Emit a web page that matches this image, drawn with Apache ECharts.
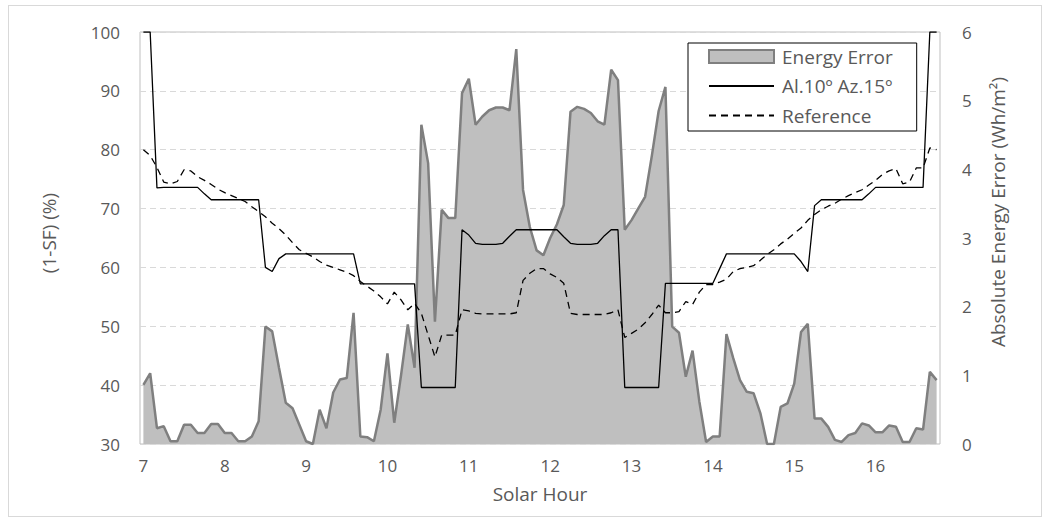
<!DOCTYPE html>
<html>
<head>
<meta charset="utf-8">
<script src="https://cdn.jsdelivr.net/npm/echarts@6/dist/echarts.min.js"></script>
<style>
    html, body { margin: 0; padding: 0; background: #fff; }
    #chart { position: absolute; left: 0; top: 0; width: 1043px; height: 530px; }
    #frame { position: absolute; left: 8px; top: 5px; width: 1032px; height: 510px; border: 1px solid #d9d9d9; pointer-events: none; }
</style>
</head>
<body>
<div id="chart"></div>
<div id="frame"></div>
<script>
// 5-minute steps from 7:00 to 16:45
const hourLabels = [7, 8, 9, 10, 11, 12, 13, 14, 15, 16]
const minuteLabels = ['00', '05', '10', '15', '20', '25', '30', '35', '40', '45', '50', '55']

// Absolute Energy Error (Wh/m2), right axis
const energyError = [
    0.86, 1.03, 0.23, 0.26, 0.04, 0.04, 0.28, 0.28, 0.16, 0.16,
    0.29, 0.29, 0.16, 0.16, 0.04, 0.04, 0.11, 0.33, 1.71, 1.64,
    1.11, 0.6, 0.52, 0.28, 0.04, 0, 0.5, 0.23, 0.75, 0.94,
    0.96, 1.91, 0.11, 0.1, 0.04, 0.5, 1.32, 0.31, 1.0, 1.74,
    1.11, 4.65, 4.09, 1.78, 3.41, 3.29, 3.29, 5.11, 5.32, 4.65,
    4.77, 4.86, 4.9, 4.9, 4.86, 5.75, 3.7, 3.16, 2.82, 2.75,
    3.0, 3.2, 3.48, 4.84, 4.91, 4.88, 4.82, 4.7, 4.65, 5.45,
    5.3, 3.12, 3.26, 3.43, 3.6, 4.2, 4.85, 5.2, 1.71, 1.62,
    0.98, 1.36, 0.62, 0.03, 0.11, 0.11, 1.6, 1.25, 0.93, 0.76,
    0.74, 0.45, 0, 0, 0.54, 0.59, 0.88, 1.63, 1.75, 0.37,
    0.37, 0.25, 0.06, 0.03, 0.13, 0.16, 0.3, 0.27, 0.17, 0.17,
    0.27, 0.25, 0.03, 0.03, 0.23, 0.21, 1.05, 0.93
]

// (1-SF) (%) Al.10º Az.15º, left axis
const al10az15 = [
    100, 100, 73.5, 73.6, 73.6, 73.6, 73.6, 73.6, 73.6, 72.5,
    71.5, 71.5, 71.5, 71.5, 71.5, 71.5, 71.5, 71.5, 60, 59.3,
    61.5, 62.3, 62.3, 62.3, 62.3, 62.3, 62.3, 62.3, 62.3, 62.3,
    62.3, 62.3, 57.2, 57.2, 57.2, 57.2, 57.2, 57.2, 57.2, 57.2,
    57.2, 39.6, 39.6, 39.6, 39.6, 39.6, 39.6, 66.4, 65.5, 64.1,
    63.9, 63.9, 63.9, 64.1, 65.3, 66.4, 66.4, 66.4, 66.4, 66.4,
    66.4, 66.4, 65.2, 64.1, 63.9, 63.9, 63.9, 64.1, 65.4, 66.4,
    66.4, 39.6, 39.6, 39.6, 39.6, 39.6, 39.6, 57.3, 57.3, 57.3,
    57.3, 57.3, 57.3, 57.3, 57.3, 59.8, 62.3, 62.3, 62.3, 62.3,
    62.3, 62.3, 62.3, 62.3, 62.3, 62.3, 62.3, 61, 59.3, 70.5,
    71.5, 71.5, 71.5, 71.5, 71.5, 71.5, 71.5, 72.5, 73.6, 73.6,
    73.6, 73.6, 73.6, 73.6, 73.6, 73.6, 100, 100
]

// (1-SF) (%) Reference, left axis
const reference = [
    80, 79, 77, 74.5, 74.2, 74.6, 76.6, 76.4, 75.4, 74.8,
    74.1, 73.3, 72.7, 72.2, 71.7, 71.2, 70.3, 69.5, 68.6, 67.5,
    66.6, 65.5, 64.2, 63, 62.4, 61.8, 61, 60.4, 60, 59.6,
    59.2, 58.6, 57.6, 56.8, 56, 55, 53.8, 55.8, 54.5, 52.8,
    53.9, 52.2, 48.5, 44.8, 48.5, 48.5, 48.5, 52.8, 52.6, 52.2,
    52.1, 52.1, 52.1, 52.1, 52.1, 52.3, 57.8, 59, 59.8, 59.8,
    58.9, 58.3, 57.3, 52.2, 52, 52, 52, 52, 52, 52.3,
    52.8, 48.1, 48.8, 49.5, 50.6, 52, 53.6, 52.3, 52.3, 52.5,
    54.2, 53.7, 55.8, 57.1, 57.1, 57.5, 58, 59.3, 59.8, 60,
    60.3, 61.2, 62.2, 63, 64, 64.8, 65.8, 66.7, 68, 69,
    69.8, 70.4, 70.9, 71.6, 72.2, 72.7, 73.2, 74, 74.8, 75.8,
    76.4, 76.8, 74.2, 74.5, 76.9, 76.9, 80.3, 80
]

const times = []
hourLabels.forEach(h => minuteLabels.forEach(m => times.push(h + ':' + m)))
times.length = energyError.length

const font = "'Open Sans', sans-serif"
const textColor = '#595959'

const chart = echarts.init(document.getElementById('chart'), null, { renderer: 'svg' })

chart.setOption({
    animation: false,
    backgroundColor: '#fff',
    grid: {
        left: 140,
        top: 32,
        right: 103,
        bottom: 86,
        show: true,
        borderColor: '#bfbfbf',
        borderWidth: 1
    },
    legend: {
        orient: 'vertical',
        left: 688,
        top: 43,
        padding: [4, 24, 6, 20],
        itemWidth: 65,
        itemHeight: 13,
        itemGap: 10.5,
        borderColor: '#000',
        borderWidth: 1,
        backgroundColor: '#fff',
        textStyle: { color: textColor, fontSize: 19, fontFamily: font, padding: [0, 0, 0, 3] },
        data: [
            { name: 'Energy Error', icon: 'rect', itemStyle: { color: '#bfbfbf', borderColor: '#7f7f7f', borderWidth: 2 } },
            // hide the marker that the line legend icon adds, keep the line
            { name: 'Al.10º Az.15º', itemStyle: { opacity: 0 } },
            { name: 'Reference', itemStyle: { opacity: 0 } }
        ]
    },
    xAxis: {
        type: 'category',
        data: times,
        boundaryGap: true,
        axisLine: { show: false },
        axisTick: { show: false },
        axisLabel: {
            interval: (i) => i % 12 === 0,
            formatter: (v) => v.split(':')[0],
            color: textColor,
            fontSize: 17,
            fontFamily: font,
            margin: 13
        },
        name: 'Solar Hour',
        nameLocation: 'middle',
        nameGap: 40,
        nameTextStyle: { color: textColor, fontSize: 19, fontFamily: font }
    },
    yAxis: [
        {
            type: 'value',
            min: 30,
            max: 100,
            interval: 10,
            axisLine: { show: false },
            axisTick: { show: false },
            axisLabel: { color: textColor, fontSize: 17, fontFamily: font, margin: 20 },
            splitLine: { lineStyle: { color: '#d9d9d9', type: [6, 4] } },
            name: '(1-SF) (%)',
            nameLocation: 'middle',
            nameGap: 82,
            nameTextStyle: { color: textColor, fontSize: 19, fontFamily: font, padding: [0, 0, 0, 10] }
        },
        {
            type: 'value',
            min: 0,
            max: 6,
            interval: 1,
            position: 'right',
            axisLine: { show: false },
            axisTick: { show: false },
            axisLabel: { color: textColor, fontSize: 17, fontFamily: font, margin: 22 },
            splitLine: { show: false },
            name: 'Absolute Energy Error (Wh/m²)',
            nameLocation: 'middle',
            nameGap: 48,
            nameTextStyle: { color: textColor, fontSize: 19, fontFamily: font, padding: [0, 0, 0, 52] }
        }
    ],
    series: [
        {
            name: 'Energy Error',
            type: 'line',
            yAxisIndex: 1,
            data: energyError,
            symbol: 'none',
            lineStyle: { color: '#7f7f7f', width: 2.5 },
            itemStyle: { color: '#bfbfbf' },
            areaStyle: { color: '#bfbfbf', opacity: 1 }
        },
        {
            name: 'Al.10º Az.15º',
            type: 'line',
            yAxisIndex: 0,
            data: al10az15,
            symbol: 'none',
            itemStyle: { color: '#000' },
            lineStyle: { color: '#000', width: 1.3 }
        },
        {
            name: 'Reference',
            type: 'line',
            yAxisIndex: 0,
            data: reference,
            symbol: 'none',
            itemStyle: { color: '#000' },
            lineStyle: { color: '#000', width: 1.3, type: [7, 5] }
        }
    ]
})
</script>
</body>
</html>
